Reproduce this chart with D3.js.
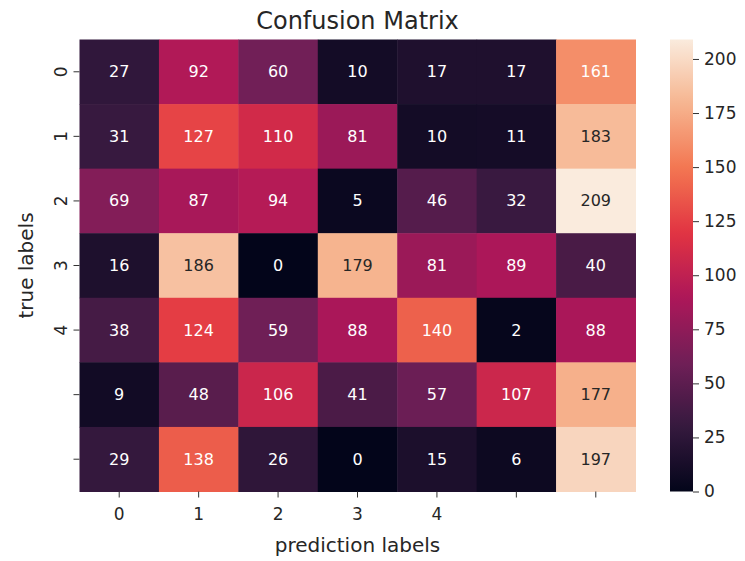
<!DOCTYPE html>
<html>
<head>
<meta charset="utf-8">
<script src="https://cdn.jsdelivr.net/npm/d3@7"></script>
<style>
  html, body { margin: 0; padding: 0; background: #ffffff; }
  svg { display: block; font-family: "DejaVu Sans", sans-serif; }
</style>
</head>
<body>
<svg id="chart" width="745" height="561"></svg>
<script>
// Confusion matrix counts: rows = true label, columns = predicted label
const rowLabels = ["0", "1", "2", "3", "4", "", ""];
const colLabels = ["0", "1", "2", "3", "4", "", ""];
const matrix = [
  [27, 92, 60, 10, 17, 17, 161],
  [31, 127, 110, 81, 10, 11, 183],
  [69, 87, 94, 5, 46, 32, 209],
  [16, 186, 0, 179, 81, 89, 40],
  [38, 124, 59, 88, 140, 2, 88],
  [9, 48, 106, 41, 57, 107, 177],
  [29, 138, 26, 0, 15, 6, 197]
];
const colorbarTicks = [0, 25, 50, 75, 100, 125, 150, 175, 200];

// "rocket" style sequential palette stops
const rocketStops = [0, 1/7, 2/7, 3/7, 4/7, 5/7, 6/7, 1];
const rocketColors = ["#03051a", "#35193e", "#701f57", "#ad1759", "#e13342", "#f37651", "#f6b48f", "#faebdd"];
const rocket = d3.scaleLinear().domain(rocketStops).range(rocketColors).interpolate(d3.interpolateRgb).clamp(true);

const vmin = 0;
const vmax = d3.max(matrix.flat());
const norm = d3.scaleLinear().domain([vmin, vmax]).range([0, 1]);
const color = v => rocket(norm(v));

const svg = d3.select("#chart");
const plot = { left: 79.5, top: 39.5, width: 556, height: 452 };
const cbar = { left: 670, top: 39.5, width: 23, height: 452 };

const x = d3.scaleBand().domain(d3.range(colLabels.length)).range([plot.left, plot.left + plot.width]);
const y = d3.scaleBand().domain(d3.range(rowLabels.length)).range([plot.top, plot.top + plot.height]);

// Relative luminance used to pick annotation text colour
function luminance(c) {
  const rgb = d3.rgb(c);
  const f = v => { v /= 255; return v <= 0.03928 ? v / 12.92 : Math.pow((v + 0.055) / 1.055, 2.4); };
  return 0.2126 * f(rgb.r) + 0.7152 * f(rgb.g) + 0.0722 * f(rgb.b);
}

const cells = [];
matrix.forEach((row, i) => row.forEach((v, j) => cells.push({ i, j, v })));

svg.append("g").selectAll("rect").data(cells).join("rect")
  .attr("x", d => x(d.j))
  .attr("y", d => y(d.i))
  .attr("width", x.bandwidth() + 0.5)
  .attr("height", y.bandwidth() + 0.5)
  .attr("fill", d => color(d.v));

svg.append("g").selectAll("text").data(cells).join("text")
  .attr("x", d => x(d.j) + x.bandwidth() / 2)
  .attr("y", d => y(d.i) + y.bandwidth() / 2)
  .attr("text-anchor", "middle")
  .attr("dominant-baseline", "central")
  .attr("font-size", 16)
  .attr("fill", d => luminance(color(d.v)) > 0.408 ? "#262626" : "#ffffff")
  .text(d => d.v);

// Axes
const tickColor = "#333333";
const xAxis = d3.axisBottom(x).tickFormat(i => colLabels[i]).tickSize(6).tickPadding(10);
const gx = svg.append("g").attr("transform", `translate(0,${plot.top + plot.height})`).call(xAxis);
gx.select(".domain").remove();
gx.selectAll("line").attr("stroke", tickColor);
gx.selectAll("text").attr("font-size", 17).attr("fill", "#262626").attr("font-family", "DejaVu Sans");

const yAxis = d3.axisLeft(y).tickFormat(i => rowLabels[i]).tickSize(6).tickPadding(5);
const gy = svg.append("g").attr("transform", `translate(${plot.left},0)`).call(yAxis);
gy.select(".domain").remove();
gy.selectAll("line").attr("stroke", tickColor);
gy.selectAll("text")
  .attr("font-size", 17).attr("fill", "#262626").attr("font-family", "DejaVu Sans")
  .attr("text-anchor", "middle").attr("dy", null).attr("dominant-baseline", "central")
  .attr("x", null)
  .attr("transform", "translate(-18.5,0) rotate(-90)");

// Titles
svg.append("text")
  .attr("x", plot.left + plot.width / 2).attr("y", 29)
  .attr("text-anchor", "middle").attr("font-size", 24).attr("fill", "#262626")
  .text("Confusion Matrix");
svg.append("text")
  .attr("x", plot.left + plot.width / 2).attr("y", 552)
  .attr("text-anchor", "middle").attr("font-size", 20).attr("fill", "#262626")
  .text("prediction labels");
svg.append("text")
  .attr("transform", `translate(33,${plot.top + plot.height / 2}) rotate(-90)`)
  .attr("text-anchor", "middle").attr("font-size", 20).attr("fill", "#262626")
  .text("true labels");

// Colour bar
const defs = svg.append("defs");
const grad = defs.append("linearGradient").attr("id", "cbarGrad")
  .attr("x1", 0).attr("y1", 1).attr("x2", 0).attr("y2", 0);
d3.range(0, 1.0001, 0.02).forEach(t => {
  grad.append("stop").attr("offset", t).attr("stop-color", rocket(t));
});
svg.append("rect")
  .attr("x", cbar.left).attr("y", cbar.top)
  .attr("width", cbar.width).attr("height", cbar.height)
  .attr("fill", "url(#cbarGrad)");

const cy = d3.scaleLinear().domain([vmin, vmax]).range([cbar.top + cbar.height, cbar.top]);
const cAxis = d3.axisRight(cy).tickValues(colorbarTicks).tickSize(6).tickPadding(5);
const gc = svg.append("g").attr("transform", `translate(${cbar.left + cbar.width},0)`).call(cAxis);
gc.select(".domain").remove();
gc.selectAll("line").attr("stroke", tickColor);
gc.selectAll("text").attr("font-size", 17).attr("fill", "#262626").attr("font-family", "DejaVu Sans");
</script>
</body>
</html>
